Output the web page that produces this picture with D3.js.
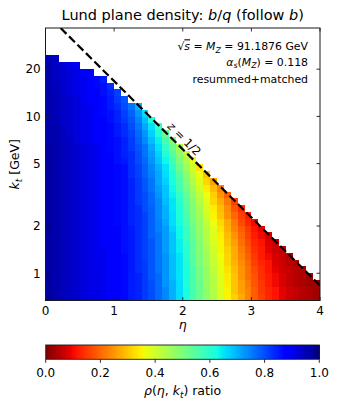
<!DOCTYPE html>
<html><head><meta charset="utf-8">
<script src="https://cdn.jsdelivr.net/npm/d3@7"></script>
<style>
body{margin:0;background:#fff;}
text{font-family:"DejaVu Sans",sans-serif;fill:#000;}
.it{font-style:italic;}
</style></head><body>
<svg id="c" width="338" height="407"></svg>
<script>
// ---------------- data ----------------
const sqrtS = 91.1876;               // GeV
const etaRange = [0, 4];             // eta axis
const lnKtRange = [-0.4, 3.6];       // ln(kt/GeV) axis
const binSize = 0.1;                 // bin width in eta and in ln kt
const xTickValues = [0, 1, 2, 3, 4];
const yTickValues = [1, 2, 5, 10, 20];
const cbTickValues = [0.0, 0.2, 0.4, 0.6, 0.8, 1.0];
// ratio (x100) per eta bin (column), listed from the lowest kt bin upward;
// the length of each column gives the filled bins
const ratioColumns = [
 [97,97,97,97,97,97,97,97,97,97,97,97,97,97,97,97,97,97,97,97,97,97,97,96,96,96,96,96,96,96,96,96,96,96,95,95],
 [96,96,96,96,96,96,96,96,96,96,96,96,96,96,96,96,96,96,96,96,96,96,96,96,96,96,95,95,95,95,95,95,94,94,94,94],
 [95,95,95,95,95,95,95,95,95,95,95,95,95,95,95,95,95,95,95,95,95,95,95,95,95,94,94,94,94,94,94,93,93,93,93],
 [94,94,94,94,94,94,94,94,94,94,94,94,94,94,94,94,94,94,94,94,94,94,94,94,93,93,93,93,93,93,92,92,92,92,91],
 [93,93,93,93,93,93,93,93,93,93,93,93,93,93,93,93,93,93,93,93,93,93,93,92,92,92,92,92,92,92,91,91,91,91,90],
 [92,92,92,92,92,92,92,92,92,92,92,92,92,92,92,92,92,92,92,92,92,92,92,91,91,91,91,91,91,90,90,90,90,89],
 [91,91,91,91,91,91,91,91,91,91,91,91,91,91,91,91,91,91,91,91,91,91,91,90,90,90,90,90,90,89,89,89,88,88],
 [91,91,91,91,91,91,90,90,90,90,90,90,90,90,90,90,90,90,90,90,90,90,90,89,89,89,89,89,88,88,88,87,87],
 [90,90,90,90,90,90,90,90,89,89,89,89,89,89,89,89,89,89,89,89,89,89,88,88,88,88,88,87,87,87,86,86,85],
 [89,89,89,89,89,89,89,89,89,89,88,88,88,88,88,88,88,88,88,88,88,88,87,87,87,87,86,86,85,85,84,83],
 [88,88,88,88,88,88,88,88,88,88,88,87,87,87,87,87,87,87,87,87,86,86,86,86,85,85,84,84,83,82,81],
 [87,87,87,87,87,87,87,86,86,86,86,86,86,86,86,86,86,86,86,86,85,84,84,84,83,83,82,81,80,79],
 [85,85,85,85,85,85,85,85,85,85,85,84,84,84,84,84,84,84,83,83,83,83,82,82,81,80,79,78,76],
 [84,84,84,84,83,83,83,83,83,83,83,83,83,83,82,82,82,82,81,81,80,80,79,78,77,76,75,73,70],
 [82,82,82,82,82,82,81,81,81,81,81,81,81,80,80,80,79,79,78,78,77,76,76,74,73,71,69,66],
 [80,80,80,79,79,79,79,79,79,78,78,78,78,78,77,77,76,76,75,74,73,72,71,69,67,65,62],
 [77,77,77,77,76,76,76,76,76,76,75,75,74,74,74,73,72,71,71,70,68,67,65,64,61,58],
 [74,74,73,73,73,73,73,72,72,72,72,71,70,70,69,68,68,67,66,65,63,61,59,56,53],
 [70,70,70,69,69,69,69,68,68,68,67,66,66,65,65,64,63,62,61,59,57,55,52,49],
 [66,66,66,65,65,65,65,64,64,63,63,62,61,61,60,59,57,56,54,52,50,48,45],
 [62,62,61,61,61,61,60,60,59,58,58,57,56,55,54,53,51,50,48,46,44,41],
 [57,57,56,56,56,55,55,54,54,53,52,51,50,50,49,47,46,44,42,40,37],
 [52,52,52,51,51,50,50,49,49,48,47,47,46,45,43,42,40,38,36,33],
 [48,48,47,47,47,46,46,45,44,43,43,42,40,39,38,36,34,32,30],
 [44,43,43,43,42,41,41,40,39,38,38,36,35,34,32,31,29,26],
 [39,39,38,38,37,37,36,35,35,34,33,32,30,29,27,25,23],
 [35,35,34,34,33,32,32,31,30,29,28,27,25,24,22,19],
 [31,30,30,30,29,28,27,27,26,25,23,22,20,18,16],
 [27,26,26,25,25,24,23,22,21,20,19,17,16,14],
 [23,23,22,21,21,20,19,18,17,16,15,13,12],
 [19,19,18,18,17,16,15,14,13,12,11,10],
 [16,15,15,14,14,13,12,12,11,10,9],
 [13,13,12,12,11,11,10,9,8,7],
 [11,11,10,10,9,8,8,7,6],
 [9,9,8,8,7,7,6,6],
 [7,7,6,6,6,5,5],
 [6,6,5,5,5,4],
 [5,5,4,4,4],
 [4,4,3,3],
 [3,3,3]
];
// matplotlib 'jet' segment data (x, value) per channel
const jetRed   = [[0,0],[0.35,0],[0.66,1],[0.89,1],[1,0.5]];
const jetGreen = [[0,0],[0.125,0],[0.375,1],[0.64,1],[0.91,0],[1,0]];
const jetBlue  = [[0,0.5],[0.11,1],[0.34,1],[0.65,0],[1,0]];

// ---------------- drawing ----------------
const svg = d3.select("#c");
const L = 45.5, R = 320, T = 28, B = 300.5;
const x = d3.scaleLinear().domain(etaRange).range([L, R]);
const y = d3.scaleLog().domain(lnKtRange.map(Math.exp)).range([B, T]);

const ch = s => d3.scaleLinear().domain(s.map(p=>p[0])).range(s.map(p=>p[1])).clamp(true);
const cr = ch(jetRed), cg = ch(jetGreen), cb = ch(jetBlue);
function jetR(v){ // reversed jet
  const t = 1 - Math.max(0, Math.min(1, v));
  const q = Math.min(255, Math.floor(t*256)) / 255; // 256-entry LUT like matplotlib
  return d3.rgb(cr(q)*255, cg(q)*255, cb(q)*255).toString();
}

// cells
const cells = [];
ratioColumns.forEach((col, c) => {
  col.forEach((v, r) => {
    cells.push({e0: etaRange[0] + c*binSize, e1: etaRange[0] + (c+1)*binSize,
                k0: Math.exp(lnKtRange[0] + r*binSize), k1: Math.exp(lnKtRange[0] + (r+1)*binSize),
                v: v/100});
  });
});
svg.append("g").attr("shape-rendering","crispEdges")
  .selectAll("rect").data(cells).join("rect")
  .attr("x", d => x(d.e0)).attr("y", d => y(d.k1))
  .attr("width", d => x(d.e1)-x(d.e0)).attr("height", d => y(d.k0)-y(d.k1))
  .attr("fill", d => jetR(d.v));

// z = 1/2 line : kt = (sqrt(s)/2) * exp(-eta)
svg.append("clipPath").attr("id","clip").append("rect")
  .attr("x",L).attr("y",T).attr("width",R-L).attr("height",B-T);
const lineEta = [Math.log(sqrtS/2) - lnKtRange[1], etaRange[1]];
svg.append("path").attr("clip-path","url(#clip)")
  .attr("d", d3.line().x(e => x(e)).y(e => y(sqrtS/2*Math.exp(-e)))(lineEta))
  .attr("fill","none").attr("stroke","#000").attr("stroke-width",2.2)
  .attr("stroke-dasharray","8.3,3.6");

// z = 1/2 label
{
  const e = 1.95, px = x(e), py = y(sqrtS/2*Math.exp(-e));
  const ang = Math.atan2(y(sqrtS/2*Math.exp(-(e+0.1))) - py, x(e+0.1)-px) * 180/Math.PI;
  const g = svg.append("g").attr("transform", `translate(${px+5},${py-7}) rotate(${ang})`);
  const t = g.append("text").attr("text-anchor","middle").attr("dy","0.35em").attr("font-size",11.5);
  t.append("tspan").attr("class","it").text("z");
  t.append("tspan").text(" = 1/2");
}

// frame
svg.append("rect").attr("x",L).attr("y",T).attr("width",R-L).attr("height",B-T)
  .attr("fill","none").attr("stroke","#1a1a1a").attr("stroke-width",1);

// ticks (inward, all four sides)
const tk = svg.append("g").attr("stroke","#1a1a1a").attr("stroke-width",0.9);
xTickValues.forEach(t => {
  tk.append("line").attr("x1",x(t)).attr("x2",x(t)).attr("y1",B).attr("y2",B-3.5);
  tk.append("line").attr("x1",x(t)).attr("x2",x(t)).attr("y1",T).attr("y2",T+3.5);
});
yTickValues.forEach(t => {
  tk.append("line").attr("y1",y(t)).attr("y2",y(t)).attr("x1",L).attr("x2",L+3.5);
  tk.append("line").attr("y1",y(t)).attr("y2",y(t)).attr("x1",R).attr("x2",R-3.5);
});
svg.append("g").selectAll("text").data(xTickValues).join("text")
  .attr("x", d => x(d)).attr("y", 314.5).attr("text-anchor","middle").attr("font-size",12)
  .text(d => d);
svg.append("g").selectAll("text").data(yTickValues).join("text")
  .attr("x", L-4.8).attr("y", d => y(d)).attr("dy","0.36em").attr("text-anchor","end").attr("font-size",12)
  .text(d => d);

// axis labels
{
  const t = svg.append("text").attr("x",(L+R)/2).attr("y",329).attr("text-anchor","middle").attr("font-size",12.5);
  t.append("tspan").attr("class","it").text("η");
  const yl = svg.append("text").attr("transform",`translate(19,${(T+B)/2}) rotate(-90)`)
    .attr("text-anchor","middle").attr("font-size",12.5);
  yl.append("tspan").attr("class","it").text("k");
  yl.append("tspan").attr("class","it").attr("font-size",8.8).attr("dy",2.6).text("t");
  yl.append("tspan").attr("dy",-2.6).text(" [GeV]");
}

// title
{
  const t = svg.append("text").attr("x",(L+R)/2).attr("y",20).attr("text-anchor","middle").attr("font-size",14.5);
  t.append("tspan").text("Lund plane density: ");
  t.append("tspan").attr("class","it").text("b");
  t.append("tspan").text("/");
  t.append("tspan").attr("class","it").text("q");
  t.append("tspan").text(" (follow ");
  t.append("tspan").attr("class","it").text("b");
  t.append("tspan").text(")");
}

// annotation
{
  const ax = 308, fs = 10.9, sfs = 7.8;
  const t1 = svg.append("text").attr("x",ax).attr("y",50.3).attr("text-anchor","end").attr("font-size",fs);
  t1.append("tspan").text("√");
  t1.append("tspan").attr("class","it").attr("text-decoration","overline").text("s");
  t1.append("tspan").text(" = ");
  t1.append("tspan").attr("class","it").text("M");
  t1.append("tspan").attr("class","it").attr("font-size",sfs).attr("dy",2.3).text("Z");
  t1.append("tspan").attr("dy",-2.3).text(" = 91.1876 GeV");
  const t2 = svg.append("text").attr("x",ax).attr("y",65.8).attr("text-anchor","end").attr("font-size",fs);
  t2.append("tspan").attr("class","it").text("α");
  t2.append("tspan").attr("class","it").attr("font-size",sfs).attr("dy",2.3).text("s");
  t2.append("tspan").attr("dy",-2.3).text("(");
  t2.append("tspan").attr("class","it").text("M");
  t2.append("tspan").attr("class","it").attr("font-size",sfs).attr("dy",2.3).text("Z");
  t2.append("tspan").attr("dy",-2.3).text(") = 0.118");
  svg.append("text").attr("x",ax).attr("y",82.6).attr("text-anchor","end").attr("font-size",fs)
    .text("resummed+matched");
}

// colorbar
{
  const cx0 = 45.7, cx1 = 319.3, cy0 = 345, cy1 = 359.3;
  const cbx = d3.scaleLinear().domain([0,1]).range([cx0, cx1]);
  const n = 256;
  svg.append("g").attr("shape-rendering","crispEdges").selectAll("rect").data(d3.range(n)).join("rect")
    .attr("x", i => cbx(i/n)).attr("width", (cx1-cx0)/n + 0.6)
    .attr("y", cy0).attr("height", cy1-cy0)
    .attr("fill", i => jetR((i+0.5)/n));
  svg.append("rect").attr("x",cx0).attr("y",cy0).attr("width",cx1-cx0).attr("height",cy1-cy0)
    .attr("fill","none").attr("stroke","#1a1a1a").attr("stroke-width",0.9);
  cbTickValues.forEach(v => {
    svg.append("line").attr("x1",cbx(v)).attr("x2",cbx(v)).attr("y1",cy1).attr("y2",cy1+3.5)
      .attr("stroke","#1a1a1a").attr("stroke-width",0.9);
  });
  svg.append("g").selectAll("text").data(cbTickValues).join("text")
    .attr("x", d => cbx(d)).attr("y", 377).attr("text-anchor","middle").attr("font-size",12)
    .text(d => d.toFixed(1));
  const t = svg.append("text").attr("x",(cx0+cx1)/2).attr("y",395).attr("text-anchor","middle").attr("font-size",12.5);
  t.append("tspan").attr("class","it").text("ρ");
  t.append("tspan").text("(");
  t.append("tspan").attr("class","it").text("η");
  t.append("tspan").text(", ");
  t.append("tspan").attr("class","it").text("k");
  t.append("tspan").attr("class","it").attr("font-size",8.8).attr("dy",2.6).text("t");
  t.append("tspan").attr("dy",-2.6).text(") ratio");
}
</script>
</body></html>
